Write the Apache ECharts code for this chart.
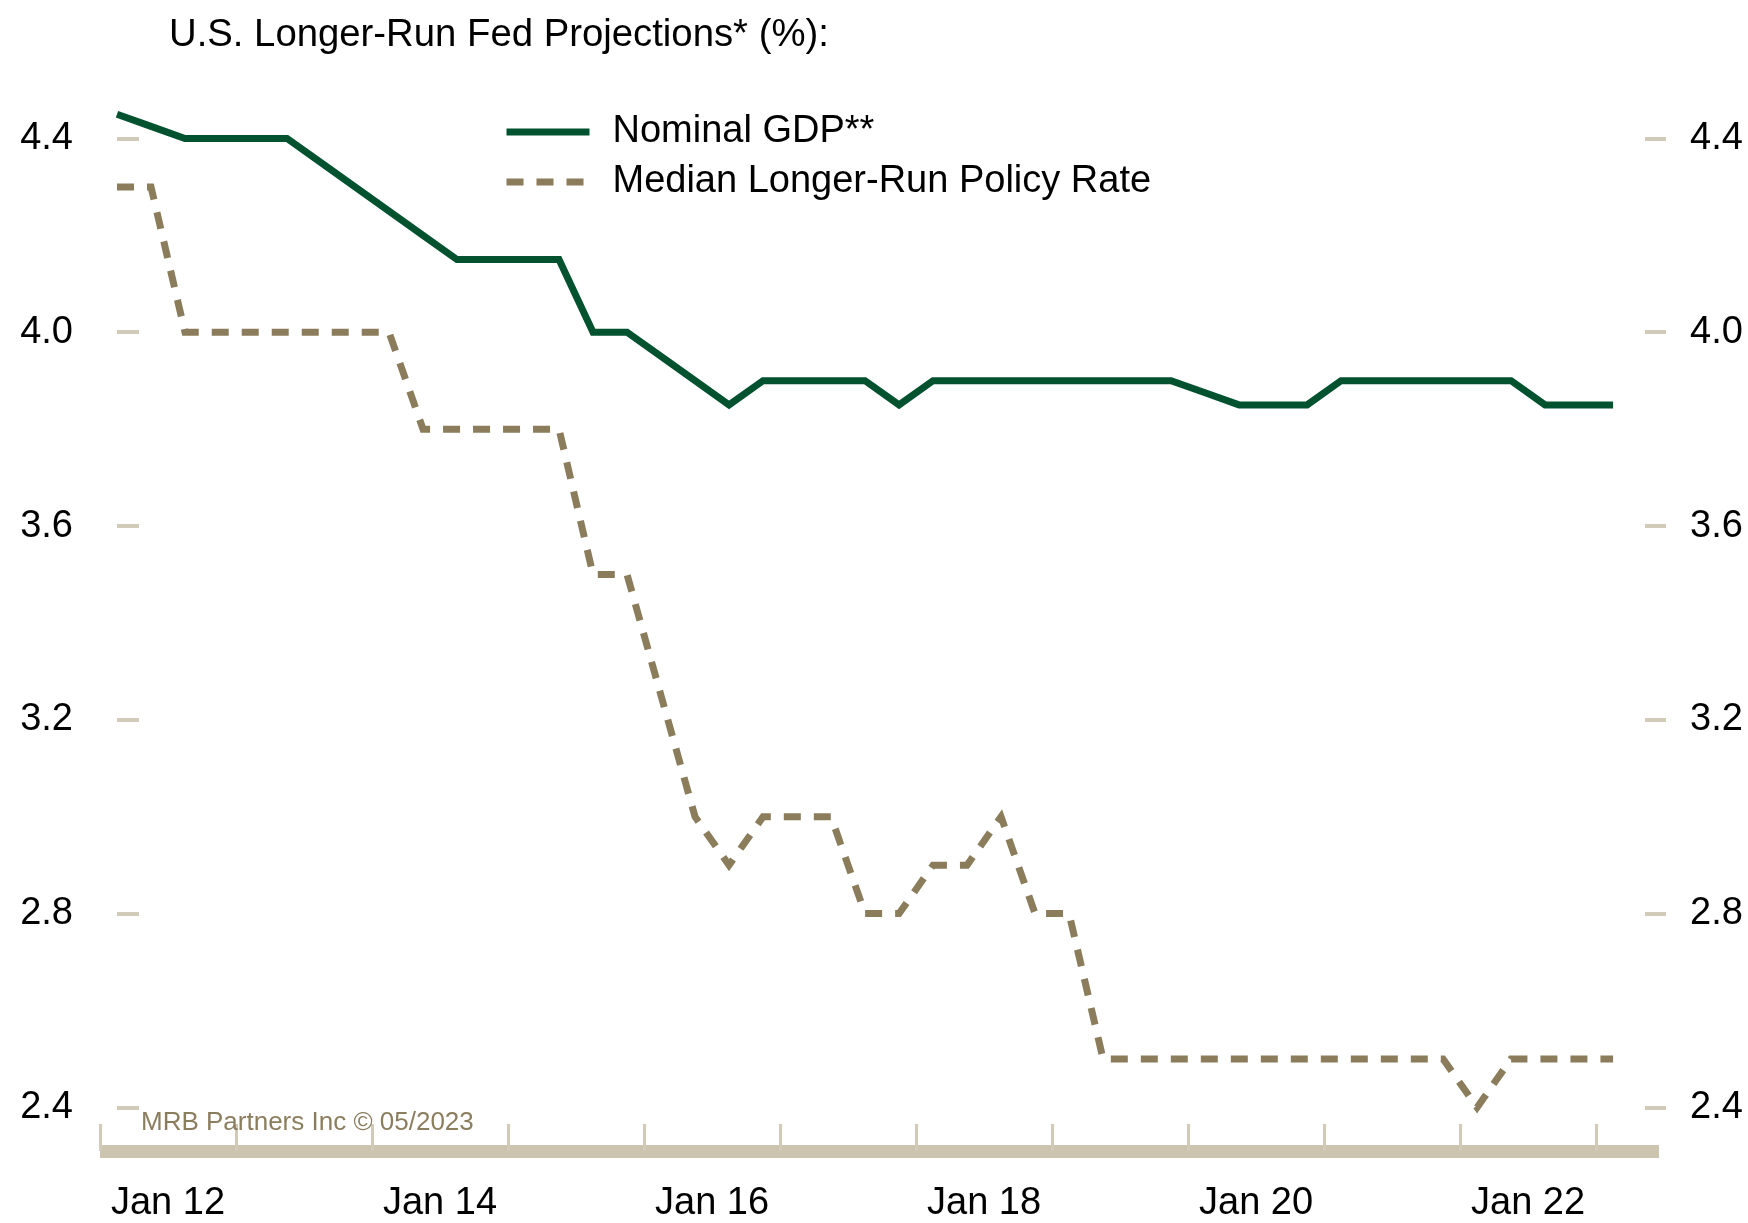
<!DOCTYPE html>
<html>
<head>
<meta charset="utf-8">
<title>U.S. Longer-Run Fed Projections</title>
<script src="https://cdn.jsdelivr.net/npm/echarts@6/dist/echarts.min.js"></script>
<style>
  html, body { margin: 0; padding: 0; background: #ffffff; }
  #chart { width: 1748px; height: 1223px; }
</style>
</head>
<body>
<div id="chart"></div>
<script>
// FOMC Summary of Economic Projections, one entry per quarter (2012 Q1 .. 2023 Q1)
const quarters = [
  '2012Q1','2012Q2','2012Q3','2012Q4','2013Q1','2013Q2','2013Q3','2013Q4',
  '2014Q1','2014Q2','2014Q3','2014Q4','2015Q1','2015Q2','2015Q3','2015Q4',
  '2016Q1','2016Q2','2016Q3','2016Q4','2017Q1','2017Q2','2017Q3','2017Q4',
  '2018Q1','2018Q2','2018Q3','2018Q4','2019Q1','2019Q2','2019Q3','2019Q4',
  '2020Q1','2020Q2','2020Q3','2020Q4','2021Q1','2021Q2','2021Q3','2021Q4',
  '2022Q1','2022Q2','2022Q3','2022Q4','2023Q1'
];

// Longer-run nominal GDP growth (%)
const nominalGdp = [
  4.45, 4.425, 4.4, 4.4, 4.4, 4.4, 4.35, 4.3,
  4.25, 4.2, 4.15, 4.15, 4.15, 4.15, 4.0, 4.0,
  3.95, 3.9, 3.85, 3.9, 3.9, 3.9, 3.9, 3.85,
  3.9, 3.9, 3.9, 3.9, 3.9, 3.9, 3.9, 3.9,
  3.875, 3.85, 3.85, 3.85, 3.9, 3.9, 3.9, 3.9,
  3.9, 3.9, 3.85, 3.85, 3.85
];

// Median longer-run federal funds rate (%)
const policyRate = [
  4.3, 4.3, 4.0, 4.0, 4.0, 4.0, 4.0, 4.0,
  4.0, 3.8, 3.8, 3.8, 3.8, 3.8, 3.5, 3.5,
  3.25, 3.0, 2.9, 3.0, 3.0, 3.0, 2.8, 2.8,
  2.9, 2.9, 3.0, 2.8, 2.8, 2.5, 2.5, 2.5,
  2.5, 2.5, 2.5, 2.5, 2.5, 2.5, 2.5, 2.5,
  2.4, 2.5, 2.5, 2.5, 2.5
];

// Year labels, one every second year, centred in that year's span
const yearLabels = ['Jan 12', 'Jan 14', 'Jan 16', 'Jan 18', 'Jan 20', 'Jan 22'];
const yTicks = [2.4, 2.8, 3.2, 3.6, 4.0, 4.4];

const seriesNames = ['Nominal GDP**', 'Median Longer-Run Policy Rate'];

// x positions: quarter index; year boundaries sit half a quarter before Q1
const toPoints = vals => vals.map((v, i) => [i, v]);
const yearTicks = [];
for (let y = 0; y <= 11; y++) yearTicks.push(y * 4 - 0.5);
const labelPos = yearLabels.map((_, k) => k * 8 + 1.5);

const FONT = '"Liberation Sans", Arial, Helvetica, sans-serif';
const tickColor = '#D2CAB8';

const chart = echarts.init(document.getElementById('chart'), null, { renderer: 'canvas' });

const yAxisCommon = {
  type: 'value',
  min: 2.31,
  max: 4.5,
  splitLine: { show: false },
  axisLine: { show: false },
  axisTick: {
    show: true,
    inside: true,
    customValues: yTicks,
    lineStyle: { color: tickColor, width: 4 }
  },
  axisLabel: {
    customValues: yTicks,
    formatter: v => v.toFixed(1),
    color: '#000000',
    fontFamily: FONT,
    fontSize: 38
  }
};

chart.setOption({
  backgroundColor: '#ffffff',
  animation: false,
  title: {
    text: 'U.S. Longer-Run Fed Projections* (%):',
    left: 164,
    top: 11,
    textStyle: { fontFamily: FONT, fontSize: 38.3, fontWeight: 'normal', color: '#000000' }
  },
  legend: {
    orient: 'vertical',
    left: 498,
    top: 107,
    itemWidth: 83,
    itemHeight: 14,
    itemGap: 10,
    itemStyle: { opacity: 0 },
    lineStyle: { width: 7, cap: 'butt' },
    textStyle: {
      fontFamily: FONT, fontSize: 38, color: '#000000',
      lineHeight: 40, padding: [0, 0, 0, 18]
    },
    data: seriesNames
  },
  grid: { left: 100, right: 89, top: 90, bottom: 67, containLabel: false },
  xAxis: {
    type: 'value',
    min: -0.5,
    max: 45.35,
    splitLine: { show: false },
    axisLine: { show: true, onZero: false, lineStyle: { color: '#CDC4B0', width: 13, cap: 'butt' } },
    axisTick: {
      show: true,
      inside: true,
      length: 27,
      customValues: yearTicks,
      lineStyle: { color: tickColor, width: 3 }
    },
    axisLabel: {
      customValues: labelPos,
      formatter: v => yearLabels[Math.round((v - 1.5) / 8)],
      color: '#000000',
      fontFamily: FONT,
      fontSize: 38,
      margin: 34
    }
  },
  yAxis: [
    Object.assign({}, yAxisCommon, {
      position: 'left',
      axisTick: Object.assign({}, yAxisCommon.axisTick, { length: 22 }),
      axisLabel: Object.assign({}, yAxisCommon.axisLabel, { margin: 27 })
    }),
    Object.assign({}, yAxisCommon, {
      position: 'right',
      offset: 7,
      axisTick: Object.assign({}, yAxisCommon.axisTick, { length: 21 }),
      axisLabel: Object.assign({}, yAxisCommon.axisLabel, { margin: 24 })
    })
  ],
  graphic: [{
    type: 'text',
    x: 141,
    y: 1123,
    style: {
      text: 'MRB Partners Inc \u00A9 05/2023',
      fill: '#8B7E5E',
      font: '26px ' + FONT,
      verticalAlign: 'middle'
    },
    z: 10
  }],
  series: [
    {
      name: seriesNames[0],
      type: 'line',
      data: toPoints(nominalGdp),
      symbol: 'none',
      clip: false,
      lineStyle: { color: '#02522F', width: 7, cap: 'butt', join: 'miter' },
      itemStyle: { color: '#02522F' },
      z: 3
    },
    {
      name: seriesNames[1],
      type: 'line',
      data: toPoints(policyRate),
      symbol: 'none',
      clip: false,
      lineStyle: { color: '#8B7D5B', width: 7, type: [17, 13], cap: 'butt', join: 'miter' },
      itemStyle: { color: '#8B7D5B' },
      z: 2
    }
  ]
});
</script>
</body>
</html>
